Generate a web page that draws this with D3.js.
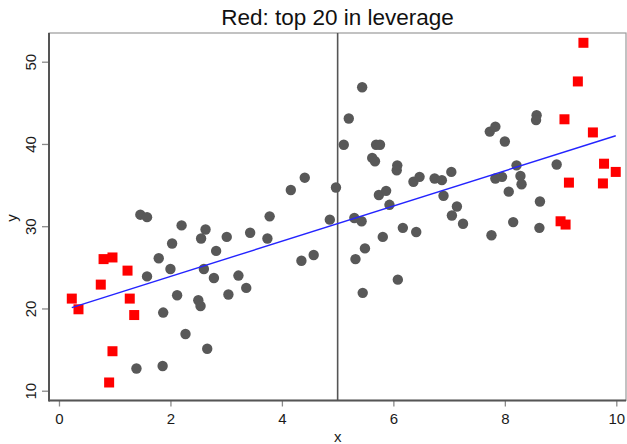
<!DOCTYPE html>
<html>
<head>
<meta charset="utf-8">
<script src="https://cdn.jsdelivr.net/npm/d3@7"></script>
<style>
  html, body { margin: 0; padding: 0; background: #fff; }
  svg { display: block; font-family: "Liberation Sans", Arial, sans-serif; }
</style>
</head>
<body>
<svg id="chart" width="627" height="444"></svg>
<script>
// Observations not among the top 20 in leverage
const grayX = [1.46, 1.58, 2.20, 2.63, 2.55, 2.03, 2.82, 1.79, 2.00, 1.58,
               2.60, 2.78, 2.12, 2.50, 2.54, 1.87, 2.27, 2.66, 1.39, 1.86,
               3.01, 3.04, 3.22, 3.36, 3.43, 3.74, 3.78, 4.16, 4.41, 4.35,
               4.57, 4.86, 4.97, 5.11, 5.20, 5.44, 5.30, 5.43, 5.32, 5.49,
               5.45, 5.69, 5.76, 5.62, 5.67, 5.74, 5.87, 5.93, 5.81, 6.07,
               6.06, 6.08, 6.17, 6.36, 6.41, 6.47, 6.74, 6.87, 6.90, 7.04,
               7.14, 7.05, 7.25, 7.73, 7.83, 8.00, 7.83, 7.95, 8.07, 8.21,
               8.28, 8.30, 8.15, 7.76, 8.57, 8.56, 8.63, 8.62, 8.93];
const grayY = [31.4, 31.1, 30.1, 29.6, 28.5, 27.9, 27.0, 26.1, 24.8, 23.9,
               24.8, 23.7, 21.6, 21.0, 20.3, 19.5, 16.9, 15.1, 12.7, 13.0,
               28.7, 21.7, 24.0, 22.5, 29.2, 28.5, 31.2, 34.4, 35.9, 25.8,
               26.5, 30.8, 34.7, 39.9, 43.1, 46.9, 31.0, 30.6, 26.0, 27.3,
               21.9, 39.9, 39.9, 38.3, 37.9, 33.8, 34.3, 32.6, 28.7, 37.4,
               36.8, 23.5, 29.8, 35.4, 29.3, 36.0, 35.8, 35.6, 33.7, 36.6,
               32.4, 31.3, 30.3, 41.5, 42.1, 40.3, 35.8, 36.0, 34.2, 37.4,
               36.1, 35.1, 30.5, 28.9, 43.5, 42.9, 33.0, 29.8, 37.5];

// Top 20 observations in leverage
const redX = [0.23, 0.35, 0.75, 0.80, 0.96, 1.23, 1.27, 1.35, 0.96, 0.90,
              9.41, 9.31, 9.07, 9.58, 9.78, 9.99, 9.15, 9.76, 9.00, 9.09];
const redY = [21.2, 19.9, 22.9, 26.0, 26.2, 24.6, 21.2, 19.2, 14.8, 11.0,
              52.3, 47.6, 43.0, 41.4, 37.6, 36.6, 35.3, 35.2, 30.6, 30.2];

// Fitted line: intercept, slope
const fit = [19.61, 2.141];
const xMean = 5;

const xTicks = [0, 2, 4, 6, 8, 10];
const yTicks = [10, 20, 30, 40, 50];
const titleText = "Red: top 20 in leverage";

const svg = d3.select("#chart");
const plotL = 49, plotR = 626, plotT = 33, plotB = 400.5;

const x = d3.scaleLinear().domain([-0.179, 10.174]).range([plotL, plotR]);
const y = d3.scaleLinear().domain([8.81, 53.49]).range([plotB, plotT]);

// Plot frame: light top/right, darker left/bottom axes
svg.append("rect")
  .attr("x", plotL).attr("y", plotT)
  .attr("width", plotR - plotL).attr("height", plotB - plotT)
  .attr("fill", "#fff").attr("stroke", "#9a9a9a").attr("stroke-width", 1.2);

// Axes
const xAxis = svg.append("g")
  .attr("transform", `translate(0,${plotB})`)
  .call(d3.axisBottom(x).tickValues(xTicks).tickSize(6).tickPadding(7).tickFormat(d3.format("d")));
xAxis.select(".domain").remove();
xAxis.selectAll(".tick line").attr("stroke", "#8a8a8a").attr("stroke-width", 1.3);
xAxis.selectAll(".tick text").attr("font-size", 15).attr("fill", "#1a1a1a")
  .attr("dy", "0.71em");

const yAxis = svg.append("g")
  .attr("transform", `translate(${plotL},0)`)
  .call(d3.axisLeft(y).tickValues(yTicks).tickSize(7).tickFormat(d3.format("d")));
yAxis.select(".domain").remove();
yAxis.selectAll(".tick line").attr("stroke", "#8a8a8a").attr("stroke-width", 1.3);
yAxis.selectAll(".tick text")
  .attr("x", null).attr("dy", null)
  .attr("font-size", 15).attr("fill", "#1a1a1a")
  .attr("text-anchor", "middle")
  .attr("dominant-baseline", "central")
  .attr("transform", "translate(-19,0) rotate(-90)");

// Vertical reference line at the mean of x
svg.append("line")
  .attr("x1", x(xMean)).attr("x2", x(xMean))
  .attr("y1", plotT).attr("y2", plotB)
  .attr("stroke", "#555").attr("stroke-width", 1.6);

// Points
const grayData = grayX.map((d, i) => ({ x: d, y: grayY[i] }));
const redData = redX.map((d, i) => ({ x: d, y: redY[i] }));

svg.append("g").selectAll("circle")
  .data(grayData).join("circle")
  .attr("cx", d => x(d.x)).attr("cy", d => y(d.y))
  .attr("r", 5.2).attr("fill", "#585858");

const sq = 10;
svg.append("g").selectAll("rect")
  .data(redData).join("rect")
  .attr("x", d => x(d.x) - sq / 2).attr("y", d => y(d.y) - sq / 2)
  .attr("width", sq).attr("height", sq).attr("fill", "#ff0000");

// Regression line across the range of x
const allX = grayX.concat(redX);
const xr = d3.extent(allX);
svg.append("line")
  .attr("x1", x(xr[0])).attr("y1", y(fit[0] + fit[1] * xr[0]))
  .attr("x2", x(xr[1])).attr("y2", y(fit[0] + fit[1] * xr[1]))
  .attr("stroke", "#2424ff").attr("stroke-width", 1.4);

// Left and bottom axis lines
svg.append("line").attr("x1", plotL).attr("x2", plotL).attr("y1", plotT).attr("y2", plotB + 1)
  .attr("stroke", "#555").attr("stroke-width", 2);
svg.append("line").attr("x1", plotL).attr("x2", plotR).attr("y1", plotB).attr("y2", plotB)
  .attr("stroke", "#555").attr("stroke-width", 2);

// Title and axis labels
svg.append("text")
  .attr("x", (plotL + plotR) / 2).attr("y", 25)
  .attr("text-anchor", "middle").attr("font-size", 22.5).attr("fill", "#111")
  .text(titleText);

svg.append("text")
  .attr("x", x(5)).attr("y", 441.5)
  .attr("text-anchor", "middle").attr("font-size", 15).attr("fill", "#1a1a1a")
  .text("x");

svg.append("text")
  .attr("transform", `translate(17,${y(31)}) rotate(-90)`)
  .attr("text-anchor", "middle").attr("font-size", 15).attr("fill", "#1a1a1a")
  .text("y");
</script>
</body>
</html>
